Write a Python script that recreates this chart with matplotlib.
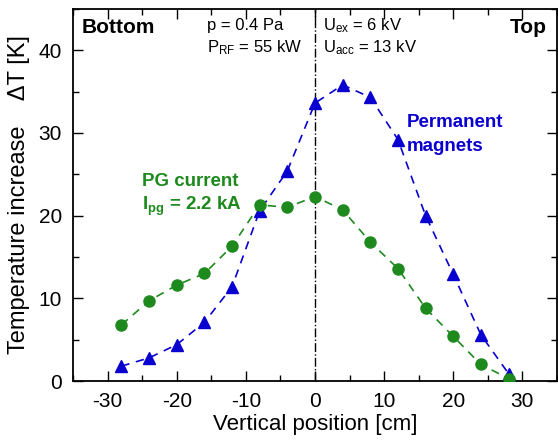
import matplotlib
matplotlib.use('Agg')
import matplotlib.pyplot as plt
from matplotlib.ticker import MultipleLocator

# --- DATA ---
position = [-28, -24, -20, -16, -12, -8, -4, 0, 4, 8, 12, 16, 20, 24, 28]
magnets_dT = [1.8, 2.8, 4.4, 7.1, 11.4, 20.6, 25.4, 33.6, 35.8, 34.3, 29.2, 20.0, 12.9, 5.6, 0.9]
pg_current_dT = [6.8, 9.7, 11.6, 13.0, 16.3, 21.3, 21.0, 22.3, 20.7, 16.8, 13.6, 8.8, 5.4, 2.0, 0.3]
xticks = [-30, -20, -10, 0, 10, 20, 30]
yticks = [0, 10, 20, 30, 40]

BLUE = '#0a00d0'
GREEN = '#1e8a1e'

plt.rcParams['font.family'] = ['Liberation Sans', 'DejaVu Sans']
plt.rcParams['mathtext.default'] = 'regular'
plt.rcParams['axes.unicode_minus'] = False

fig = plt.figure(figsize=(5.58, 4.41), dpi=100)
ax = fig.add_axes([0.131, 0.136, 0.867, 0.844])

ax.axvline(0, color='black', linestyle='-.', linewidth=1, zorder=1)

ax.plot(position, magnets_dT, color=BLUE, linestyle=(0, (5, 4)), linewidth=1.2,
        marker='^', markersize=9, zorder=3)
ax.plot(position, pg_current_dT, color=GREEN, linestyle=(0, (5, 4)), linewidth=1.2,
        marker='o', markersize=8, zorder=3)

ax.set_xlim(-35, 35)
ax.set_ylim(0, 45)
ax.set_xticks(xticks)
ax.set_yticks(yticks)
ax.xaxis.set_minor_locator(MultipleLocator(5))
ax.yaxis.set_minor_locator(MultipleLocator(5))
ax.tick_params(which='both', direction='in', top=True, right=True, labelsize=15)
ax.tick_params(which='major', length=7, width=1, pad=8)
ax.tick_params(which='minor', length=4, width=1)
for s in ax.spines.values():
    s.set_linewidth(1.3)

ax.set_xlabel('Vertical position [cm]', fontsize=16, labelpad=2)
ax.set_ylabel('Temperature increase    \u0394T [K]', fontsize=17, labelpad=6)

# annotations
ax.text(-33.7, 42.7, 'Bottom', fontsize=15, fontweight='bold', va='center')
ax.text(33.5, 42.7, 'Top', fontsize=15, fontweight='bold', va='center', ha='right')
ax.text(-15.6, 43.0, 'p = 0.4 Pa', fontsize=12, va='center')
ax.text(-15.6, 40.3, 'P$_{RF}$ = 55 kW', fontsize=12, va='center')
ax.text(1.2, 43.0, 'U$_{ex}$ = 6 kV', fontsize=12, va='center')
ax.text(1.2, 40.3, 'U$_{acc}$ = 13 kV', fontsize=12, va='center')
ax.text(13.3, 31.2, 'Permanent', fontsize=13.5, fontweight='bold', color=BLUE, va='center')
ax.text(13.3, 28.4, 'magnets', fontsize=13.5, fontweight='bold', color=BLUE, va='center')
ax.text(-25.0, 24.1, 'PG current', fontsize=13.5, fontweight='bold', color=GREEN, va='center')
ax.text(-25.0, 21.1, 'I$_{pg}$ = 2.2 kA', fontsize=13.5, fontweight='bold', color=GREEN, va='center')

fig.savefig('out.png', dpi=100)
